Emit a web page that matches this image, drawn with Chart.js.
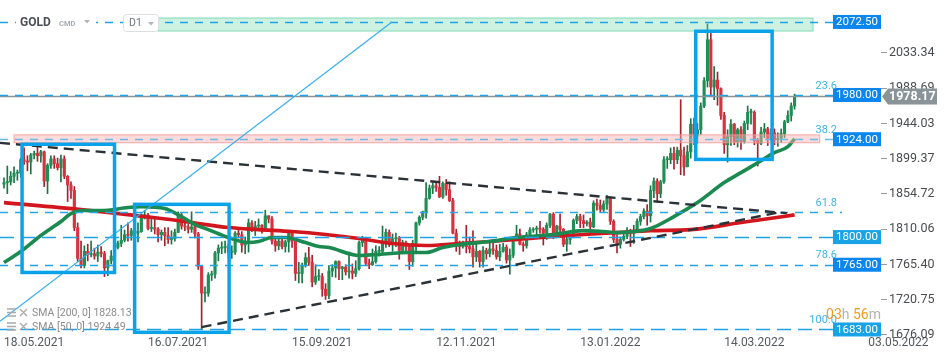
<!DOCTYPE html>
<html>
<head>
<meta charset="utf-8">
<script src="https://cdn.jsdelivr.net/npm/chart.js@4.4.1/dist/chart.umd.min.js"></script>
<style>
  html, body { margin: 0; padding: 0; background: #fff; }
  #wrap { width: 950px; height: 360px; }
</style>
</head>
<body>
<div id="wrap"><canvas id="goldChart"></canvas></div>
<script>
// GOLD daily candles, one entry per trading day from 18.05.2021
const open = [
  1867,1869,1870,1877,1881,1881,1898,1896,1895,1904,
  1906,1903,1908,1871,1891,1899,1893,1888,1899,1877,
  1866,1859,1812,1773,1764,1782,1778,1779,1776,1781,
  1779,1761,1770,1776,1787,1792,1796,1803,1802,1808,
  1805,1807,1824,1828,1811,1812,1810,1803,1806,1802,
  1797,1798,1806,1828,1814,1813,1810,1813,1804,1763,
  1729,1729,1752,1753,1780,1786,1787,1788,1781,1781,
  1805,1803,1790,1793,1818,1810,1814,1815,1810,1827,
  1823,1795,1789,1795,1788,1794,1805,1795,1754,1754,
  1764,1774,1768,1743,1750,1750,1734,1726,1757,1761,
  1769,1760,1762,1756,1757,1754,1760,1793,1796,1767,
  1765,1769,1782,1782,1792,1806,1793,1798,1799,1783,
  1793,1788,1769,1792,1818,1825,1832,1849,1862,1865,
  1863,1851,1868,1860,1846,1805,1790,1788,1792,1788,
  1785,1775,1782,1769,1783,1779,1785,1783,1775,1782,
  1787,1771,1777,1798,1804,1791,1789,1803,1809,1810,
  1811,1810,1805,1815,1829,1801,1814,1810,1791,1797,
  1802,1821,1826,1821,1817,1819,1813,1843,1840,1835,
  1842,1849,1820,1797,1791,1797,1801,1807,1805,1807,
  1820,1826,1833,1827,1859,1871,1855,1870,1898,1898,
  1906,1898,1910,1903,1889,1908,1943,1928,1936,1966,
  1998,2050,1990,1999,1988,1954,1917,1927,1943,1921,
  1936,1921,1944,1958,1958,1922,1919,1933,1937,1925,
  1932,1923,1925,1931,1946,1954,1966
];
const high = [
  1875,1890,1883,1889,1885,1900,1913,1903,1906,1909,
  1916,1910,1909,1893,1903,1903,1900,1904,1903,1878,
  1870,1864,1818,1795,1789,1791,1795,1786,1790,1788,
  1782,1771,1783,1795,1795,1815,1809,1818,1811,1810,
  1818,1829,1834,1830,1826,1824,1812,1809,1812,1812,
  1808,1810,1832,1831,1820,1816,1832,1815,1806,1764,
  1737,1755,1757,1782,1790,1794,1795,1791,1789,1807,
  1809,1807,1800,1823,1821,1820,1823,1816,1834,1827,
  1826,1801,1800,1800,1796,1808,1807,1797,1768,1767,
  1780,1787,1777,1765,1759,1754,1741,1764,1765,1770,
  1770,1763,1765,1781,1766,1770,1795,1801,1797,1772,
  1785,1789,1788,1814,1810,1809,1804,1805,1801,1796,
  1795,1791,1796,1819,1827,1833,1869,1866,1869,1870,
  1877,1870,1873,1870,1849,1810,1795,1795,1815,1800,
  1808,1792,1783,1788,1786,1793,1793,1790,1791,1792,
  1790,1785,1800,1815,1810,1794,1806,1812,1812,1814,
  1820,1812,1818,1830,1831,1815,1829,1811,1801,1803,
  1823,1829,1829,1828,1821,1824,1846,1848,1847,1846,
  1853,1851,1822,1803,1800,1805,1812,1810,1815,1823,
  1829,1836,1841,1865,1875,1874,1872,1902,1902,1913,
  1914,1914,1974,1914,1916,1950,1951,1944,1970,2002,
  2070,2058,2016,2009,1989,1958,1936,1949,1944,1938,
  1940,1947,1966,1962,1960,1925,1939,1944,1939,1937,
  1937,1932,1937,1948,1960,1970,1981
];
const low = [
  1862,1855,1866,1869,1872,1876,1892,1884,1880,1899,
  1896,1895,1864,1855,1887,1887,1885,1870,1874,1845,
  1849,1808,1769,1761,1761,1770,1775,1772,1769,1775,
  1750,1751,1766,1774,1785,1788,1794,1795,1796,1791,
  1794,1806,1823,1809,1807,1804,1794,1796,1789,1792,
  1791,1795,1806,1810,1808,1805,1806,1799,1759,1684,
  1718,1725,1745,1748,1770,1779,1780,1774,1773,1778,
  1799,1781,1779,1781,1807,1802,1808,1805,1809,1818,
  1791,1782,1784,1785,1781,1781,1787,1745,1742,1742,
  1762,1764,1737,1740,1745,1725,1721,1722,1750,1749,
  1746,1746,1752,1748,1747,1750,1758,1788,1764,1760,
  1764,1767,1776,1780,1787,1788,1782,1788,1772,1780,
  1780,1759,1763,1782,1815,1822,1824,1848,1855,1858,
  1850,1849,1853,1845,1804,1782,1778,1786,1780,1780,
  1762,1769,1762,1762,1772,1775,1778,1772,1770,1781,
  1767,1753,1774,1795,1790,1782,1786,1800,1806,1802,
  1805,1790,1797,1812,1798,1799,1806,1788,1782,1791,
  1799,1817,1812,1812,1814,1805,1812,1834,1831,1831,
  1835,1816,1793,1780,1786,1795,1798,1788,1792,1806,
  1815,1823,1815,1819,1850,1844,1850,1868,1887,1893,
  1886,1893,1879,1878,1889,1900,1917,1919,1930,1964,
  1990,1980,1974,1967,1949,1906,1895,1916,1917,1914,
  1911,1919,1936,1943,1917,1890,1917,1926,1916,1922,
  1917,1915,1920,1926,1945,1947,1962
];
const close = [
  1869,1870,1877,1881,1881,1898,1896,1895,1904,1906,
  1903,1908,1871,1891,1899,1893,1888,1899,1877,1866,
  1859,1812,1773,1764,1782,1778,1779,1776,1781,1779,
  1761,1770,1776,1787,1792,1796,1803,1802,1808,1805,
  1807,1824,1828,1811,1812,1810,1803,1806,1802,1797,
  1798,1806,1828,1814,1813,1810,1813,1804,1763,1729,
  1729,1752,1753,1780,1786,1787,1788,1781,1781,1805,
  1803,1790,1793,1818,1810,1814,1815,1810,1827,1823,
  1795,1789,1795,1788,1794,1805,1795,1754,1754,1764,
  1774,1768,1743,1750,1750,1734,1726,1757,1761,1769,
  1760,1762,1756,1757,1754,1760,1793,1796,1767,1765,
  1769,1782,1782,1792,1806,1793,1798,1799,1783,1793,
  1788,1769,1792,1818,1825,1832,1849,1862,1865,1863,
  1851,1868,1860,1846,1805,1790,1788,1792,1788,1785,
  1775,1782,1769,1783,1779,1785,1783,1775,1782,1787,
  1771,1777,1798,1804,1791,1789,1803,1809,1810,1811,
  1810,1805,1815,1829,1801,1814,1810,1791,1797,1802,
  1821,1826,1821,1817,1819,1813,1843,1840,1835,1842,
  1849,1820,1797,1791,1797,1801,1807,1805,1807,1820,
  1826,1833,1827,1859,1871,1855,1870,1898,1898,1906,
  1898,1910,1903,1889,1908,1943,1928,1936,1966,1998,
  2050,1990,1999,1988,1954,1917,1927,1943,1921,1936,
  1921,1944,1958,1958,1922,1919,1933,1937,1925,1932,
  1923,1925,1931,1946,1954,1966,1978.17
];

// moving averages (bar index, value)
const sma200Idx = [0, 23, 47, 56, 67, 76, 86, 96, 106, 116, 126, 136, 145, 153, 164, 173, 183, 193, 205, 220, 236];
const sma200 = [1843.7, 1834.8, 1823.5, 1818.4, 1812.1, 1809.5, 1807.0, 1803.2, 1798.2, 1791.8, 1789.3,
  1791.8, 1794.4, 1796.9, 1800.7, 1803.2, 1805.7, 1808.2, 1809.5, 1818.4, 1828.13];
const sma50Idx = [0, 5, 11, 17, 20, 24, 29, 37, 41, 48, 53, 57, 61, 67, 73, 76, 80, 84, 90, 94, 97, 106,
  111, 121, 126, 131, 136, 145, 153, 164, 173, 179, 183, 188, 193, 200, 207, 215, 220, 225, 230, 234, 236];
const sma50 = [1767.8, 1781.7, 1802.0, 1819.7, 1829.8, 1833.6, 1833.6, 1837.4, 1838.6, 1836.1, 1826.0,
  1815.9, 1809.5, 1799.4, 1793.1, 1794.4, 1799.4, 1799.4, 1793.1, 1788.1, 1786.8, 1776.7, 1777.9, 1780.5,
  1780.5, 1786.8, 1790.6, 1794.4, 1799.4, 1803.2, 1808.2, 1807.0, 1805.7, 1807.0, 1810.8, 1826.0, 1843.7,
  1869.0, 1881.6, 1894.2, 1906.9, 1914.5, 1924.49];

const dateTicks = [0, 43, 86, 129, 172, 215, 258];
const dateLabels = ["18.05.2021", "16.07.2021", "15.09.2021", "12.11.2021", "13.01.2022", "14.03.2022", "03.05.2022"];
const priceTicks = [2033.34, 1988.69, 1944.03, 1899.37, 1854.72, 1810.06, 1765.40, 1720.75, 1676.09];

// drawing tools on the chart
const levels = [2072.5, 1980, 1924, 1800, 1765, 1683];
const fibNames = ["23.6", "38.2", "61.8", "78.6", "100.0"];
const fibPrices = [1980, 1924, 1831.8, 1765, 1683];
const lastPrice = 1978.17;
const greenZone = [46, 241.5, 2061, 2077.5];
const pinkZone = [3, 243.5, 1919.5, 1929.5];
const trendUpper = [-1.2, 1919.4, 233.7, 1830.3];
const trendLower = [59, 1686, 231, 1831];
const blueRay = [-1.2, 1693.3, 115.8, 2072.5];
const boxes = [
  [5.4, 33, 1755.2, 1917.6],
  [39, 67.2, 1679.4, 1841.5],
  [206.5, 229.3, 1898.4, 2060.7],
];

const upBody = "#1f8f55", downBody = "#d8323e";
const upWick = "#1a7446", downWick = "#a5222c";

const bodyColors = open.map((o, i) => (close[i] >= o ? upBody : downBody));
const wickColors = open.map((o, i) => (close[i] >= o ? upWick : downWick));

function dashedLine(ctx, x1, y1, x2, y2, dash, color, width) {
  ctx.save();
  ctx.setLineDash(dash);
  ctx.strokeStyle = color;
  ctx.lineWidth = width;
  ctx.beginPath();
  ctx.moveTo(x1, y1);
  ctx.lineTo(x2, y2);
  ctx.stroke();
  ctx.restore();
}

const drawings = {
  id: "drawings",
  afterDatasetsDraw(chart) {
    const ctx = chart.ctx;
    const area = chart.chartArea;
    const px = v => chart.scales.x.getPixelForValue(v);
    const py = v => chart.scales.y.getPixelForValue(v);
    ctx.save();
    ctx.beginPath();
    ctx.rect(area.left, area.top, area.right - area.left, area.bottom - area.top);
    ctx.clip();

    // zones
    ctx.fillStyle = "rgba(125, 220, 180, 0.38)";
    ctx.strokeStyle = "rgba(100, 205, 160, 0.75)";
    ctx.lineWidth = 1;
    ctx.fillRect(px(greenZone[0]), py(greenZone[3]), px(greenZone[1]) - px(greenZone[0]), py(greenZone[2]) - py(greenZone[3]));
    ctx.strokeRect(px(greenZone[0]), py(greenZone[3]), px(greenZone[1]) - px(greenZone[0]), py(greenZone[2]) - py(greenZone[3]));
    ctx.fillStyle = "rgba(250, 175, 175, 0.45)";
    ctx.strokeStyle = "rgba(240, 150, 150, 0.8)";
    ctx.fillRect(px(pinkZone[0]), py(pinkZone[3]), px(pinkZone[1]) - px(pinkZone[0]), py(pinkZone[2]) - py(pinkZone[3]));
    ctx.strokeRect(px(pinkZone[0]), py(pinkZone[3]), px(pinkZone[1]) - px(pinkZone[0]), py(pinkZone[2]) - py(pinkZone[3]));

    // current price
    const yl = Math.round(py(lastPrice)) + 0.5;
    dashedLine(ctx, area.left, yl, area.right, yl, [], "#8e9396", 1.5);

    // horizontal levels and fibo lines
    const boxLeft = area.right - 48;
    levels.forEach(v => {
      const y = Math.round(py(v)) + 0.5;
      const long = v === 1800 || v === 1683;
      const color = v === 1924 ? "#6cb8e6" : "#1fa2e6";
      dashedLine(ctx, area.left, y, boxLeft, y, long ? [14, 7] : [8, 7], color, long ? 1.6 : 1.3);
    });
    const y618 = Math.round(py(fibPrices[2])) + 0.5;
    dashedLine(ctx, area.left, y618, area.right - 39, y618, [8, 7], "#2aa8e6", 1.3);

    // triangle
    dashedLine(ctx, px(trendUpper[0]), py(trendUpper[1]), px(trendUpper[2]), py(trendUpper[3]), [10, 6], "#2b3237", 2.4);
    dashedLine(ctx, px(trendLower[0]), py(trendLower[1]), px(trendLower[2]), py(trendLower[3]), [10, 6], "#2b3237", 2.4);

    // ray
    dashedLine(ctx, px(blueRay[0]), py(blueRay[1]), px(blueRay[2]), py(blueRay[3]), [], "#36b0ee", 1.2);

    // rectangles
    ctx.strokeStyle = "#0aa3ea";
    ctx.lineWidth = 3.5;
    boxes.forEach(b => {
      ctx.strokeRect(px(b[0]), py(b[3]), px(b[1]) - px(b[0]), py(b[2]) - py(b[3]));
    });
    ctx.restore();
  },
  afterDraw(chart) {
    const ctx = chart.ctx;
    const area = chart.chartArea;
    const py = v => chart.scales.y.getPixelForValue(v);
    ctx.save();

    // price tags
    ctx.font = "11.5px Roboto";
    ctx.textAlign = "center";
    ctx.textBaseline = "middle";
    levels.forEach(v => {
      const y = py(v);
      ctx.fillStyle = v === 1800 || v === 1683 ? "#17a3e6" : "#0a86ee";
      ctx.fillRect(area.right - 48, y - 7, 48, 14);
      ctx.fillStyle = "#fff";
      ctx.fillText(v.toFixed(2), area.right - 24, y + 0.5);
    });

    // last price tag
    const yl = py(lastPrice);
    ctx.fillStyle = "#8a9397";
    ctx.beginPath();
    ctx.moveTo(area.right + 1, yl);
    ctx.lineTo(area.right + 7, yl - 8);
    ctx.lineTo(area.right + 56, yl - 8);
    ctx.lineTo(area.right + 56, yl + 8);
    ctx.lineTo(area.right + 7, yl + 8);
    ctx.closePath();
    ctx.fill();
    ctx.fillStyle = "#fff";
    ctx.font = "bold 12.5px Roboto";
    ctx.textAlign = "left";
    ctx.fillText(lastPrice.toFixed(2), area.right + 8, yl + 0.5);

    // fibo labels
    ctx.font = "11px Roboto";
    ctx.fillStyle = "#3cb2e8";
    ctx.textAlign = "right";
    fibNames.forEach((t, i) => {
      ctx.fillText(t, area.right - 44, py(fibPrices[i]) - 9);
    });

    // countdown
    ctx.font = "14px Roboto";
    ctx.textAlign = "left";
    const parts = [["03", "#f59b1b"], ["h ", "#b3b3b3"], ["56", "#f59b1b"], ["m", "#b3b3b3"]];
    let w = 0;
    parts.forEach(p => { w += ctx.measureText(p[0]).width; });
    let cx = area.right - w;
    parts.forEach(p => {
      ctx.fillStyle = p[1];
      ctx.fillText(p[0], cx, 315);
      cx += ctx.measureText(p[0]).width;
    });

    // header
    ctx.fillStyle = "#fff";
    ctx.fillRect(16, 14, 80, 17);
    ctx.font = "bold 12px Roboto";
    ctx.fillStyle = "#4b5057";
    ctx.fillText("GOLD", 20, 23);
    ctx.font = "bold 7.5px Roboto";
    ctx.fillStyle = "#a5adb4";
    ctx.fillText("CMD", 59, 24);
    ctx.fillStyle = "#b0b6bb";
    ctx.beginPath();
    ctx.moveTo(84, 20); ctx.lineTo(90, 20); ctx.lineTo(87, 23.5); ctx.closePath();
    ctx.fill();
    ctx.fillStyle = "#fff";
    ctx.strokeStyle = "#dcdfe2";
    ctx.lineWidth = 1;
    ctx.beginPath();
    ctx.roundRect(123.5, 14.5, 35, 17, 3);
    ctx.fill();
    ctx.stroke();
    ctx.font = "10.5px Roboto";
    ctx.fillStyle = "#6f767c";
    ctx.fillText("D1", 129, 23.5);
    ctx.fillStyle = "#b0b6bb";
    ctx.beginPath();
    ctx.moveTo(148, 22); ctx.lineTo(154, 22); ctx.lineTo(151, 25.5); ctx.closePath();
    ctx.fill();

    // indicator legend
    const legend = ["SMA [200, 0] 1828.13", "SMA [50, 0] 1924.49"];
    legend.forEach((t, i) => {
      const y = 313 + i * 14;
      ctx.strokeStyle = "#a9a9a9";
      ctx.lineWidth = 1.3;
      ctx.beginPath();
      for (let k = 0; k < 3; k++) {
        ctx.moveTo(7, y - 4 + k * 3.5);
        ctx.lineTo(16, y - 4 + k * 3.5);
      }
      ctx.moveTo(20, y - 4); ctx.lineTo(27, y + 3);
      ctx.moveTo(27, y - 4); ctx.lineTo(20, y + 3);
      ctx.stroke();
      ctx.font = "10.5px Roboto";
      ctx.fillStyle = "#8c8c8c";
      ctx.fillText(t, 32, y);
    });
    ctx.restore();
  },
};

new Chart(document.getElementById("goldChart"), {
  type: "bar",
  data: {
    datasets: [
      {
        type: "line",
        label: "SMA 50",
        data: sma50Idx.map((x, i) => ({ x: x, y: sma50[i] })),
        borderColor: "#1b8a50",
        borderWidth: 3.6,
        pointRadius: 0,
        cubicInterpolationMode: "monotone",
        order: 0,
      },
      {
        type: "line",
        label: "SMA 200",
        data: sma200Idx.map((x, i) => ({ x: x, y: sma200[i] })),
        borderColor: "#d3151e",
        borderWidth: 3.6,
        pointRadius: 0,
        cubicInterpolationMode: "monotone",
        order: 1,
      },
      {
        label: "body",
        data: open.map((o, i) => ({ x: i, y: [o, close[i]] })),
        backgroundColor: bodyColors,
        barThickness: 2.5,
        minBarLength: 1,
        grouped: false,
        order: 2,
      },
      {
        label: "wick",
        data: open.map((o, i) => ({ x: i, y: [low[i], high[i]] })),
        backgroundColor: wickColors,
        barThickness: 1,
        grouped: false,
        order: 3,
      },
    ],
  },
  options: {
    responsive: true,
    maintainAspectRatio: false,
    animation: false,
    layout: { padding: 0 },
    plugins: { legend: { display: false }, tooltip: { enabled: false } },
    scales: {
      x: {
        type: "linear",
        min: -1.19,
        max: 261.8,
        offset: false,
        grid: { display: false, drawTicks: false },
        border: { display: false },
        afterBuildTicks: scale => {
          scale.ticks = dateTicks.map(v => ({ value: v }));
        },
        afterFit: scale => {
          scale.height = 25;
          scale.paddingLeft = 0;
          scale.paddingRight = 0;
        },
        ticks: {
          autoSkip: false,
          maxRotation: 0,
          align: "start",
          padding: 1,
          color: "#555a5e",
          font: { family: "Roboto", size: 12 },
          callback: v => dateLabels[dateTicks.indexOf(v)],
        },
      },
      y: {
        position: "right",
        min: 1676.0,
        max: 2100.3,
        grid: { drawOnChartArea: false, drawTicks: true, tickLength: 6, color: "#9a9a9a" },
        border: { display: false },
        afterBuildTicks: scale => {
          scale.ticks = priceTicks.map(v => ({ value: v }));
        },
        afterFit: scale => {
          scale.width = 69;
          scale.paddingTop = 0;
          scale.paddingBottom = 0;
        },
        ticks: {
          padding: 2,
          color: "#4a4d50",
          font: { family: "Roboto", size: 12.5 },
          callback: v => v.toFixed(2),
        },
      },
    },
  },
  plugins: [drawings],
});
</script>
</body>
</html>
